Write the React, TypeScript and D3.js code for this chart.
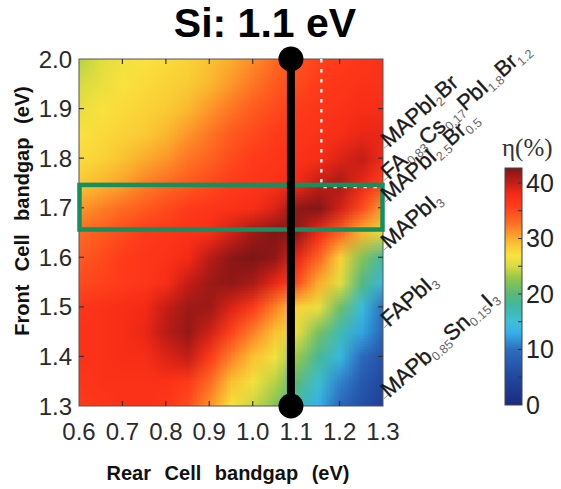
import React, { useEffect, useMemo } from "react";
import * as d3 from "d3";

const W = 561;
const H = 489;
const plot = { left: 79, top: 59, right: 383, bottom: 406 };

// grid nodes of the efficiency map (rear cell gap across, front cell gap down)
const rearGap = [0.6, 0.65, 0.7, 0.75, 0.8, 0.85, 0.9, 0.95, 1.0, 1.05, 1.1, 1.15, 1.2, 1.25, 1.3];
const frontGap = [2.0, 1.95, 1.9, 1.85, 1.8, 1.75, 1.7, 1.65, 1.6, 1.55, 1.5, 1.45, 1.4, 1.35, 1.3];
const efficiency = [
    [24, 25.5, 26.5, 27, 27.5, 28, 29, 30, 31.5, 33, 34.5, 35.5, 36, 36.5, 37],
    [25, 26, 27, 27.5, 28, 28.5, 29.5, 31, 32.5, 34, 35, 36, 36.5, 37, 37],
    [26, 27, 27.5, 28, 28.5, 29.5, 31, 32.5, 34, 35, 36, 36.5, 37, 37.5, 37.5],
    [27, 27.5, 28, 28.5, 29.5, 31, 32.5, 34, 35, 36, 36.5, 37, 37.5, 38.5, 38.5],
    [27.5, 28, 29, 30, 31, 32.5, 33.5, 35, 36, 36.5, 37, 37.5, 39, 40, 38],
    [28.5, 29.5, 30.5, 32, 33, 34, 35, 36, 36.5, 37, 38, 40, 41, 38.5, 35.5],
    [31, 32, 33, 34, 35, 36, 36.5, 37, 37.5, 39, 42, 42.5, 39.5, 35, 30.5],
    [33, 34, 35, 36, 36.5, 37, 37.5, 39.5, 41.5, 42.5, 42, 38, 33.5, 29.5, 25.5],
    [34, 35, 36, 36.5, 37, 38, 40.5, 42.2, 42.7, 42, 38.5, 33.5, 28, 22, 18],
    [35, 35.5, 36, 36.5, 37.5, 40, 41.5, 42, 41, 38.5, 35, 30, 25.5, 19.5, 14],
    [36.5, 37, 37.5, 38, 40, 41.5, 41.5, 39, 36, 32, 28, 26, 21, 14.5, 10],
    [37, 37, 37.5, 38.5, 40.5, 41.8, 39.5, 35.5, 32, 29, 26, 21.5, 17, 12.5, 8.5],
    [37, 37, 37.5, 37.5, 39, 40, 36, 32, 29, 26.5, 23, 18.5, 14, 9.5, 6.5],
    [36.5, 37, 37, 37, 37, 36, 33, 29, 26.5, 24, 20, 15.5, 11, 7.5, 5],
    [36, 36.5, 37, 37, 36.5, 35, 31, 27, 24.5, 22, 17, 13, 9, 6, 3.5],
];

const xTicks = [0.6, 0.7, 0.8, 0.9, 1.0, 1.1, 1.2, 1.3];
const yTicks = [1.3, 1.4, 1.5, 1.6, 1.7, 1.8, 1.9, 2.0];
const cbLabels = [0, 10, 20, 30, 40];
const cbMinor = [5, 10, 15, 20, 25, 30, 35, 40];
const cbMax = 42.7;

// colour map
const cmapValues = [0, 5, 10, 13, 15, 18, 20, 23, 25, 27, 29, 31, 33, 36, 38, 40, 42.7];
const cmapColors = ["#1c2a80", "#2147a0", "#2d6dc0", "#35b0e8", "#3cc0d8", "#40b8a0", "#58b878", "#98c848",
    "#d8dc40", "#fae23e", "#fac232", "#fc962a", "#fe6a22", "#ff3a1a", "#f62a16", "#c41e16", "#7e1616"];

const siGap = 1.088;            // black vertical line
const frontBand = [1.656, 1.746]; // green rectangle
const dotted = { x: 1.158, y: 1.742 };

// absorber labels on the right, `_{..}` is a subscript
const absorbers = [
    { name: "MAPbI_{2}Br", eg: 1.82 },
    { name: "FA_{0.83}Cs_{0.17}PbI_{1.8}Br_{1.2}", eg: 1.755 },
    { name: "MAPbI_{2.5}Br_{0.5}", eg: 1.71 },
    { name: "MAPbI_{3}", eg: 1.615 },
    { name: "FAPbI_{3}", eg: 1.458 },
    { name: "MAPb_{0.85}Sn_{0.15}I_{3}", eg: 1.315 },
];

const sans = "'Liberation Sans', Arial, sans-serif";

function splitSubs(s: string) {
    const out: { t: string; sub: boolean }[] = [];
    const parts = s.split(/_\{([^}]*)\}/);
    parts.forEach((p, i) => { if (p) out.push({ t: p, sub: i % 2 === 1 }); });
    return out;
}

export default function App() {
    useEffect(() => { document.body.style.margin = "0"; }, []);

    const x = d3.scaleLinear().domain([0.6, 1.3]).range([plot.left, plot.right]);
    const y = d3.scaleLinear().domain([1.3, 2.0]).range([plot.bottom, plot.top]);
    const color = d3.scaleLinear<string>().domain(cmapValues).range(cmapColors).clamp(true);
    const cb = d3.scaleLinear().domain([0, cbMax]).range([405, 168]);

    const heatUrl = useMemo(() => {
        const cv = document.createElement("canvas");
        cv.width = rearGap.length;
        cv.height = frontGap.length;
        const ctx = cv.getContext("2d")!;
        const img = ctx.createImageData(cv.width, cv.height);
        efficiency.forEach((row, j) => row.forEach((v, i) => {
            const c = d3.rgb(color(v));
            const k = (j * cv.width + i) * 4;
            img.data[k] = c.r; img.data[k + 1] = c.g; img.data[k + 2] = c.b; img.data[k + 3] = 255;
        }));
        ctx.putImageData(img, 0, 0);
        return cv.toDataURL();
    }, []);

    const half = 0.025;
    const ix0 = x(rearGap[0] - half), ix1 = x(rearGap[rearGap.length - 1] + half);
    const iy0 = y(frontGap[0] + half), iy1 = y(frontGap[frontGap.length - 1] - half);

    const tickLen = 5;
    const xs = x(siGap);

    return (
        <svg width={W} height={H} style={{ display: "block", background: "white" }} fontFamily={sans}>
            <defs>
                <clipPath id="plotClip">
                    <rect x={plot.left} y={plot.top} width={plot.right - plot.left} height={plot.bottom - plot.top} />
                </clipPath>
                <linearGradient id="cbGrad" x1="0" y1="1" x2="0" y2="0">
                    {cmapValues.map((v, i) => (
                        <stop key={i} offset={v / cbMax} stopColor={cmapColors[i]} />
                    ))}
                </linearGradient>
            </defs>

            {/* title */}
            <text x={265} y={37} textAnchor="middle" fontSize={41} fontWeight="bold" fill="#000">Si: 1.1 eV</text>

            {/* heat map */}
            <image href={heatUrl} x={ix0} y={iy0} width={ix1 - ix0} height={iy1 - iy0}
                preserveAspectRatio="none" clipPath="url(#plotClip)" />

            {/* frame + inner ticks */}
            <rect x={plot.left} y={plot.top} width={plot.right - plot.left} height={plot.bottom - plot.top}
                fill="none" stroke="#555" strokeWidth={1} />
            {xTicks.slice(1, -1).map(t => (
                <g key={"xt" + t} stroke="#333" strokeWidth={1.2}>
                    <line x1={x(t)} x2={x(t)} y1={plot.bottom} y2={plot.bottom - tickLen} />
                    <line x1={x(t)} x2={x(t)} y1={plot.top} y2={plot.top + tickLen} />
                </g>
            ))}
            {yTicks.slice(1, -1).map(t => (
                <g key={"yt" + t} stroke="#333" strokeWidth={1.2}>
                    <line x1={plot.left} x2={plot.left + tickLen} y1={y(t)} y2={y(t)} />
                    <line x1={plot.right} x2={plot.right - tickLen} y1={y(t)} y2={y(t)} />
                </g>
            ))}
            {xTicks.map(t => (
                <text key={"xl" + t} x={x(t)} y={440} textAnchor="middle" fontSize={24} fill="#2a2a2a">{t.toFixed(1)}</text>
            ))}
            {yTicks.map(t => (
                <text key={"yl" + t} x={72} y={y(t)} dy="0.36em" textAnchor="end" fontSize={24} fill="#2a2a2a">{t.toFixed(1)}</text>
            ))}

            {/* axis titles */}
            <text x={228} y={480} textAnchor="middle" fontSize={20} fontWeight="bold" wordSpacing={8} fill="#111">Rear Cell bandgap (eV)</text>
            <text transform={`translate(29,211) rotate(-90)`} textAnchor="middle" fontSize={20} fontWeight="bold" wordSpacing={8} fill="#111">Front Cell bandgap (eV)</text>

            {/* white dotted guide */}
            <path d={`M${x(dotted.x)},${plot.top}V${y(dotted.y)}H${plot.right - 2}`} fill="none"
                stroke="#f6eee6" strokeWidth={2.5} strokeDasharray="3.5 6.5" />

            {/* green band */}
            <rect x={x(0.6) + 0.5} y={y(frontBand[1])} width={x(1.3) - x(0.6) - 1} height={y(frontBand[0]) - y(frontBand[1])}
                fill="none" stroke="#12905f" strokeWidth={4.5} />

            {/* Si line */}
            <line x1={xs} x2={xs} y1={plot.top} y2={plot.bottom} stroke="#000" strokeWidth={8} />
            <circle cx={xs} cy={plot.top} r={12.5} fill="#000" />
            <circle cx={xs} cy={plot.bottom} r={12.5} fill="#000" />

            {/* absorber labels */}
            {absorbers.map(a => {
                const yp = y(a.eg);
                return (
                    <g key={a.name}>
                        <line x1={plot.right + 1} y1={yp} x2={plot.right + 8} y2={yp - 6} stroke="#9a9a9a" strokeWidth={1} />
                        <text transform={`translate(${plot.right + 6},${yp}) rotate(-42)`} fontSize={22} fill="#1a1a1a"
                            stroke="#1a1a1a" strokeWidth={0.35}>
                            {splitSubs(a.name).map((p, i, arr) => {
                                const prevSub = i > 0 && arr[i - 1].sub;
                                const dy = p.sub ? 4 : (prevSub ? -4 : 0);
                                return (
                                    <tspan key={i} dy={dy} fontSize={p.sub ? 12.5 : 22}
                                        fill={p.sub ? "#666" : "#1a1a1a"} stroke={p.sub ? "none" : "#1a1a1a"}>{p.t}</tspan>
                                );
                            })}
                        </text>
                    </g>
                );
            })}

            {/* colour bar */}
            <rect x={505} y={168} width={17} height={237} fill="url(#cbGrad)" stroke="#444" strokeWidth={1} />
            {cbMinor.map(v => (
                <line key={"cm" + v} x1={522} x2={518} y1={cb(v)} y2={cb(v)} stroke="#333" strokeWidth={1} />
            ))}
            {cbLabels.map(v => (
                <text key={"cl" + v} x={526} y={cb(v)} dy="0.36em" fontSize={25} fill="#222">{v}</text>
            ))}
            <text x={502} y={156} fontSize={25} fill="#333" fontFamily="'Liberation Serif', 'DejaVu Serif', serif">η(%)</text>
        </svg>
    );
}
